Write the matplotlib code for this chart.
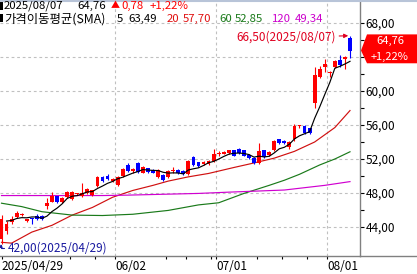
import matplotlib
matplotlib.use("Agg")
import matplotlib.pyplot as plt
import pandas as pd
from matplotlib.patches import Polygon, Rectangle
from matplotlib.transforms import blended_transform_factory
from matplotlib.ticker import FixedLocator, FuncFormatter

plt.rcParams['font.family'] = ['Noto Sans CJK KR', 'DejaVu Sans']

# ---------------- data ----------------
opens = [42.6, 43.5, 44.6, 45.2, 45.4, 44.7, 45.0, 45.3, 45.3, 46.5,
         47.0, 47.6, 46.9, 47.5, 47.3, 47.85, 47.6, 48.0, 47.8, 48.8,
         49.85, 50.0, 49.4, 48.9, 50.0, 51.3, 50.6, 51.5, 50.4, 50.9,
         50.7, 49.9, 50.1, 49.9, 50.55, 50.7, 50.6, 50.2, 52.2, 51.6,
         51.4, 51.4, 51.8, 52.55, 52.65, 52.7, 53.0, 53.2, 53.0, 52.5,
         52.1, 51.5, 53.0, 52.5, 53.1, 54.3, 54.1, 53.4, 54.3, 55.85,
         55.9, 55.6, 58.6, 61.6, 62.8, 62.1, 62.8, 63.6, 63.8, 66.2]
highs = [45.4, 44.7, 45.3, 45.9, 45.7, 45.0, 45.1, 45.5, 45.4, 47.4,
         48.1, 47.7, 47.5, 48.2, 48.2, 48.0, 49.2, 48.6, 48.4, 50.0,
         50.0, 50.2, 49.8, 50.0, 50.9, 51.5, 51.0, 51.6, 51.2, 51.0,
         50.8, 50.8, 50.2, 50.7, 51.1, 50.8, 50.7, 51.9, 52.3, 51.7,
         51.8, 51.9, 53.2, 52.9, 52.9, 53.1, 53.1, 53.3, 53.1, 52.6,
         52.2, 53.9, 53.1, 52.9, 54.2, 54.4, 54.2, 54.1, 56.1, 56.0,
         56.0, 55.7, 62.8, 63.0, 63.8, 62.3, 63.6, 64.2, 64.1, 66.5]
lows = [42.0, 43.2, 44.4, 45.1, 45.3, 44.6, 44.4, 44.8, 44.8, 46.1,
        46.9, 46.8, 46.8, 47.4, 47.2, 47.8, 47.5, 47.9, 47.7, 48.7,
        49.3, 49.5, 49.3, 48.8, 49.9, 50.5, 50.4, 50.4, 50.3, 50.4,
        50.3, 49.8, 49.4, 49.8, 50.4, 50.2, 50.1, 50.1, 51.2, 51.1,
        51.3, 51.3, 51.7, 52.4, 52.6, 52.6, 52.3, 52.6, 52.3, 52.0,
        51.4, 51.4, 52.1, 52.4, 53.0, 53.8, 53.8, 53.2, 54.1, 55.7,
        55.0, 55.0, 58.0, 61.5, 62.2, 61.7, 62.7, 62.8, 62.6, 63.9]
closes = [45.0, 44.4, 44.9, 45.7, 45.5, 44.9, 44.9, 44.9, 44.9, 46.8,
          47.6, 46.9, 47.4, 48.1, 48.1, 47.95, 48.0, 48.5, 48.3, 49.9,
          49.4, 49.6, 49.6, 49.9, 50.8, 50.6, 50.8, 50.5, 51.1, 50.5,
          50.4, 50.7, 49.5, 50.6, 50.65, 50.3, 50.2, 51.8, 51.3, 51.2,
          51.7, 51.8, 52.6, 52.65, 52.75, 53.0, 52.4, 52.7, 52.4, 52.1,
          51.5, 53.0, 52.2, 52.8, 54.1, 53.9, 53.9, 54.0, 55.9, 55.95,
          55.1, 55.1, 61.9, 62.6, 63.2, 62.2, 63.5, 63.01, 63.98, 64.76]

ma20_idx = [0, 2, 6, 10, 14, 18, 22, 26, 30, 33, 37, 41, 46, 49, 54, 58, 62, 66, 69]
ma20_val = [42.2, 42.1, 43.4, 44.2, 45.4, 46.3, 47.5, 48.3, 48.9, 49.4,
            49.9, 50.3, 51.0, 51.4, 52.1, 52.9, 54.0, 55.7, 57.70]
ma60_idx = [0, 4, 8, 14, 20, 26, 33, 39, 43, 48, 53, 56, 59, 63, 66, 69]
ma60_val = [46.8, 46.4, 45.8, 45.4, 45.35, 45.5, 45.95, 46.6, 46.85, 47.95,
            48.9, 49.5, 50.2, 51.3, 52.0, 52.85]
ma120_idx = [0, 20, 25, 39, 45, 56, 64, 69]
ma120_val = [47.7, 47.7, 47.75, 47.95, 48.1, 48.35, 48.9, 49.34]
ma_periods = [5, 20, 60, 120]

date_tick_idx = [0, 23, 43, 65]
date_tick_labels = ['2025/04/29', '06/02', '07/01', '08/01']
week_tick_idx = [14, 19, 33, 37, 42, 51, 56, 61]
y_major = [44, 48, 52, 56, 60, 64, 68]
y_minor = [46, 50, 54, 58, 62, 66]

last_date = '2025/08/07'
high_date = '2025/08/07'
low_date = '2025/04/29'

# ---------------- styling ----------------
UP = '#ff0000'
DOWN = '#0000ff'
C_MA5 = '#000000'
C_MA20 = '#d01010'
C_MA60 = '#1a7a1a'
C_MA120 = '#d000d0'
GRID = '#c0c0c0'
AXC = '#808080'
FS = 8.5


def fmt(v):
    return f"{v:.2f}".replace('.', ',')


W, H = 417, 274
fig = plt.figure(figsize=(W / 100, H / 100), dpi=100)
ax = fig.add_axes([0, 18 / H, 360 / W, 255 / H])

n = len(closes)
x = list(range(n))
step = 348.5 / 69.0
xl = -1.5 / step
ax.set_xlim(xl, xl + 360 / step)
ax.set_ylim(68 - 233 / 8.5, 68 + 22 / 8.5)

last = closes[-1]
prev = closes[-2]
chg = last - prev
pct = chg / prev * 100
box_top = last + 1.9
box_bot = last - 1.5

# candles
cols = [UP if c >= o else DOWN for o, c in zip(opens, closes)]
ax.vlines(x, lows, highs, colors=cols, lw=0.8, zorder=3)
body = [max(abs(c - o), 0.13) for o, c in zip(opens, closes)]
bottoms = [(o + c) / 2 - b / 2 for o, c, b in zip(opens, closes, body)]
ax.bar(x, body, bottom=bottoms, width=0.76, color=cols, linewidth=0, zorder=4)

# moving averages
ma5 = pd.Series(closes).rolling(ma_periods[0], min_periods=1).mean()
ax.plot(x[1:], ma5[1:], color=C_MA5, lw=0.85, zorder=5)
ax.plot(ma20_idx, ma20_val, color=C_MA20, lw=0.85, zorder=2)
ax.plot(ma60_idx, ma60_val, color=C_MA60, lw=0.85, zorder=2)
ax.plot(ma120_idx, ma120_val, color=C_MA120, lw=0.85, zorder=2)

# axes / ticks
for s in ['left', 'top']:
    ax.spines[s].set_visible(False)
for s in ['right', 'bottom']:
    ax.spines[s].set_color(AXC)
    ax.spines[s].set_linewidth(1.0)
ax.yaxis.tick_right()
ax.yaxis.set_major_locator(FixedLocator(y_major))
ax.yaxis.set_minor_locator(FixedLocator(y_minor))
# the label hidden behind the last-price box is not shown
ax.yaxis.set_major_formatter(FuncFormatter(
    lambda v, p: '' if box_bot - 0.6 <= v <= box_top + 0.6 else fmt(v)))
ax.tick_params(axis='y', which='major', length=3, width=0.8, color='#000000',
               pad=1, labelsize=FS, labelcolor='#000000')
ax.tick_params(axis='y', which='minor', length=3, width=0.8, color='#000000')

xt = [max(i - 0.5, 0) for i in date_tick_idx]
ax.set_xticks(xt)
ax.set_xticklabels(date_tick_labels)
for lab in ax.get_xticklabels():
    lab.set_ha('left')
ax.set_xticks([i - 0.5 for i in week_tick_idx], minor=True)
ax.tick_params(axis='x', which='both', length=2.5, width=0.8, color='#000000',
               pad=0.5, labelsize=FS)

ax.grid(True, axis='y', which='major', color=GRID, lw=0.8, ls=(0, (2.5, 2.5)), zorder=0)
for t in xt[1:]:
    ax.axvline(t, color=GRID, lw=0.8, ls=(0, (2.5, 2.5)), zorder=0)

# high / low annotations
hi = max(highs)
hi_i = highs.index(hi)
lo = min(lows)
lo_i = lows.index(lo)
ax.annotate(f"{fmt(hi)}({high_date})", xy=(hi_i - 0.35, hi), xytext=(-9, -1.2),
            textcoords='offset points', ha='right', va='center', fontsize=FS,
            color='#e00020',
            arrowprops=dict(arrowstyle='-|>', color='#e00020', lw=0.8,
                            mutation_scale=6, shrinkA=0.5, shrinkB=0),
            zorder=6, annotation_clip=False)
ax.annotate(f"{fmt(lo)}({low_date})", xy=(lo_i - 0.1, lo), xytext=(5, -2.6),
            textcoords='offset points', ha='left', va='center', fontsize=FS,
            color='#1a1aa0',
            arrowprops=dict(arrowstyle='-|>', color='#1a1aa0', lw=0.8,
                            mutation_scale=4, shrinkA=0.5, shrinkB=0,
                            connectionstyle='angle,angleA=0,angleB=90,rad=0'),
            zorder=6, annotation_clip=False)

# ---------------- overlay (pixel coordinates) ----------------
ov = fig.add_axes([0, 0, 1, 1])
ov.set_xlim(0, W)
ov.set_ylim(H, 0)
ov.axis('off')
ov.axhline(255.5, xmin=360 / W, xmax=1, color=AXC, lw=1.0)
ov.axhline(0.5, color='#b8c4d8', lw=1.5)

# header
ov.add_patch(Rectangle((0, 2), 3, 8, color='#000000', lw=0))
ov.add_patch(Rectangle((0, 14), 3, 8, color='#000000', lw=0))
y1, y2 = 5.6, 18.6
FH = 8.2
ov.text(4, y1, last_date, fontsize=FH, va='center', ha='left', color='#000000')
ov.text(77, y1, fmt(last), fontsize=FH, va='center', ha='left', color='#000000')
ov.text(111, y1, '▲', fontsize=6.5, va='center', ha='left', color=UP)
ov.text(121, y1, fmt(chg), fontsize=FH, va='center', ha='left', color=UP)
ov.text(150, y1, f"+{fmt(pct)}%", fontsize=FH, va='center', ha='left', color=UP)

ov.text(4, y2, '가격이동평균(SMA)', fontsize=8.9, va='center', ha='left', color='#000000')
ma_last = [ma5.iloc[-1], ma20_val[-1], ma60_val[-1], ma120_val[-1]]
hdr_cols = ['#000000', '#e01010', '#1a7a1a', '#cc00cc']
p_x = [117, 167, 219, 272]
v_x = [128, 183, 235, 295]
for per, val, c, px, vx in zip(ma_periods, ma_last, hdr_cols, p_x, v_x):
    ov.text(px, y2, str(per), fontsize=FH, va='center', ha='left', color=c)
    ov.text(vx, y2, fmt(val), fontsize=FH, va='center', ha='left', color=c)

# last price box on the right axis
tr = blended_transform_factory(ov.transData, ax.transData)
box = Polygon([(361, last), (367, box_top), (417, box_top),
               (417, box_bot), (367, box_bot)], closed=True,
              transform=tr, facecolor='#ff0000', edgecolor='none', zorder=10)
ov.add_patch(box)
ov.text(390, last + 1.1, fmt(last), transform=tr, fontsize=8, color='white',
        ha='center', va='center', zorder=11)
ov.text(390, last - 0.75, f"+{fmt(pct)}%", transform=tr, fontsize=8, color='white',
        ha='center', va='center', zorder=11)

fig.savefig('out.png', dpi=100)
